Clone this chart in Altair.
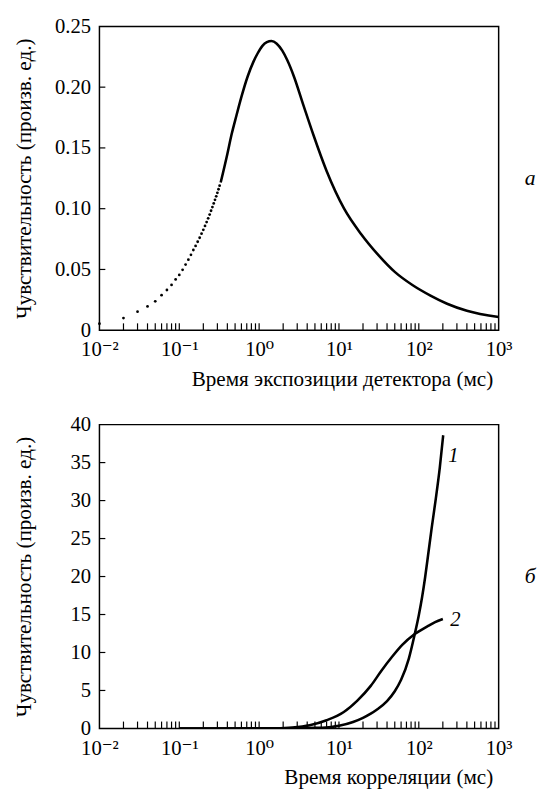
import altair as alt
import pandas as pd

FONT = "Times New Roman, Liberation Serif, DejaVu Serif, serif"
W, H = 406, 309

# ---------- panel (а) ----------
dot_x = [0.01, 0.02, 0.03, 0.04, 0.05, 0.06, 0.07, 0.08, 0.09, 0.10, 0.11,
         0.12, 0.13, 0.14, 0.15, 0.16, 0.17, 0.18, 0.19, 0.20, 0.21, 0.22,
         0.23, 0.24, 0.25, 0.26, 0.27, 0.28, 0.29, 0.30, 0.31, 0.32]
dot_y = [0.0054, 0.0100, 0.0153, 0.0196, 0.0238, 0.0288, 0.0331, 0.0373,
         0.0418, 0.0455, 0.0497, 0.0540, 0.0580, 0.0620, 0.0660, 0.0694,
         0.0728, 0.0761, 0.0794, 0.0826, 0.0858, 0.0890, 0.0921, 0.0952,
         0.0983, 0.1013, 0.1043, 0.1073, 0.1102, 0.1131, 0.1160, 0.1189]

solid_x = [0.33, 0.40, 0.45, 0.52, 0.60, 0.72, 0.85, 0.96, 1.10, 1.25, 1.43,
           1.65, 1.95, 2.24, 2.72, 3.6, 4.79, 7.0, 11.6, 19.0, 31.0, 50.0,
           84.0, 140.0, 226.0, 400.0, 1000.0]
solid_y = [0.1215, 0.145, 0.1606, 0.1767, 0.192, 0.209, 0.221, 0.2279, 0.234,
           0.2370, 0.2379, 0.2360, 0.2300, 0.2225, 0.209, 0.1848, 0.1606,
           0.131, 0.100, 0.079, 0.062, 0.048, 0.0370, 0.0285, 0.0218, 0.0160,
           0.0108]

# ---------- panel (б) ----------
c1_x = [0.1, 1.0, 2.0, 3.0, 5.0, 8.0, 10.0, 15.0, 20.0, 25.0, 30.0, 40.0,
        50.0, 60.0, 75.0, 88.0, 100.0, 110.0, 120.0, 131.0, 145.0, 162.0,
        183.0, 202.0]
c1_y = [0.0, 0.0, 0.01, 0.03, 0.08, 0.2, 0.35, 0.85, 1.4, 1.95, 2.5, 3.6,
        4.9, 6.4, 9.2, 12.2, 14.9, 17.3, 19.9, 22.9, 26.4, 30.0, 34.3, 38.6]

c2_x = [0.1, 1.0, 1.6, 2.6, 4.3, 7.0, 11.5, 17.0, 25.0, 34.0, 46.0, 62.0,
        88.0, 131.0, 160.0, 200.0]
c2_y = [0.0, 0.01, 0.03, 0.13, 0.43, 1.08, 2.16, 3.66, 5.6, 7.6, 9.4, 11.0,
        12.4, 13.5, 14.0, 14.4]

curve_labels = ["1", "2"]
curve_label_x = [271.0, 287.0]
curve_label_y = [35.8, 14.3]

x_ticks_major = [0.01, 0.1, 1, 10, 100, 1000]
x_tick_labels = ["10⁻²", "10⁻¹", "10⁰", "10¹", "10²", "10³"]
x_minor = [0.02, 0.03, 0.04, 0.05, 0.06, 0.07, 0.08, 0.09, 0.1,
           0.2, 0.3, 0.4, 0.5, 0.6, 0.7, 0.8, 0.9, 1,
           2, 3, 4, 5, 6, 7, 8, 9, 10,
           20, 30, 40, 50, 60, 70, 80, 90, 100,
           200, 300, 400, 500, 600, 700, 800, 900]

y_top_values = [0, 0.05, 0.10, 0.15, 0.20, 0.25]
y_top_inner = [0.05, 0.10, 0.15, 0.20]
y_bot_values = [0, 5, 10, 15, 20, 25, 30, 35, 40]
y_bot_inner = [5, 10, 15, 20, 25, 30, 35]

ytitle = "Чувствительность (произв. ед.)"

label_expr = "[" + ",".join("'%s'" % s for s in x_tick_labels) + "][round(log(datum.value)/LN10)+2]"

AX = dict(labelFont=FONT, labelFontSize=21, labelColor="black",
          titleFont=FONT, titleFontSize=21.5, titleFontWeight="normal",
          titleColor="black")


def x_enc(title):
    return alt.X(
        "x:Q",
        scale=alt.Scale(type="log", domain=[0.01, 1000], nice=False),
        axis=alt.Axis(values=x_ticks_major, labelExpr=label_expr, ticks=False,
                      domain=False, grid=False, labelFlush=False,
                      labelOverlap=False, labelPadding=9,
                      titleX=W - 6, titleY=50, titleAlign="right",
                      titleBaseline="middle", **AX),
        title=title,
    )


def y_enc(domain, values, expr):
    return alt.Y(
        "y:Q",
        scale=alt.Scale(domain=domain, nice=False, zero=True),
        axis=alt.Axis(values=values, labelExpr=expr, ticks=False, domain=False,
                      grid=False, labelPadding=9,
                      titleX=-76, titleY=H / 2, titleAlign="center",
                      titleBaseline="middle", titleAngle=270, **AX),
        title=ytitle,
    )


def panel(lines, extra, xtitle, ydomain, yvals, yinner, yexpr, letter):
    xe = x_enc(xtitle)
    ye = y_enc(ydomain, yvals, yexpr)
    layers = []
    for df in lines:
        layers.append(
            alt.Chart(df).mark_line(color="black", strokeWidth=2.6,
                                    interpolate="monotone", clip=True)
            .encode(x=xe, y=ye, detail="s:N")
        )
    layers += extra(xe, ye)
    xt = pd.DataFrame({"x": x_minor})
    layers.append(
        alt.Chart(xt).mark_rule(color="black", strokeWidth=1.2)
        .encode(x=xe, y=alt.value(H), y2=alt.value(H - 7))
    )
    yt = pd.DataFrame({"y": yinner})
    layers.append(
        alt.Chart(yt).mark_rule(color="black", strokeWidth=1.2)
        .encode(y=ye, x=alt.value(0), x2=alt.value(6))
    )
    lt = pd.DataFrame({"label": [letter]})
    layers.append(
        alt.Chart(lt).mark_text(font=FONT, fontSize=22, fontStyle="italic",
                                color="black", align="center", baseline="middle")
        .encode(text="label:N", x=alt.value(W + 32), y=alt.value(H / 2))
    )
    return alt.layer(*layers).properties(width=W, height=H)


top_solid = pd.DataFrame({"x": solid_x, "y": solid_y, "s": "a"})
top_dots = pd.DataFrame({"x": dot_x, "y": dot_y})


def top_extra(xe, ye):
    return [alt.Chart(top_dots).mark_circle(color="black", size=8, opacity=1)
            .encode(x=xe, y=ye)]


bot_df = pd.concat([
    pd.DataFrame({"x": c1_x, "y": c1_y, "s": "1"}),
    pd.DataFrame({"x": c2_x, "y": c2_y, "s": "2"}),
])
lab_df = pd.DataFrame({"x": curve_label_x, "y": curve_label_y, "t": curve_labels})


def bot_extra(xe, ye):
    return [alt.Chart(lab_df).mark_text(font=FONT, fontSize=21, fontStyle="italic",
                                        color="black", align="center",
                                        baseline="middle")
            .encode(x=xe, y=ye, text="t:N")]


top = panel([top_solid], top_extra, "Время экспозиции детектора (мс)",
            [0, 0.25], y_top_values, y_top_inner,
            "datum.value == 0 ? '0' : format(datum.value, '.2f')", "а")
bot = panel([bot_df], bot_extra, "Время корреляции (мс)",
            [0, 40], y_bot_values, y_bot_inner,
            "format(datum.value, 'd')", "б")

chart = (
    alt.vconcat(top, bot, spacing=22)
    .properties(padding={"left": 5, "top": 0, "right": 0, "bottom": 0})
    .configure(background="white")
    .configure_view(stroke="black", strokeWidth=1.5)
    .configure_axis(**AX)
    .configure_text(font=FONT)
)

chart.save("out.html", embed_options={"renderer": "svg", "actions": False})
